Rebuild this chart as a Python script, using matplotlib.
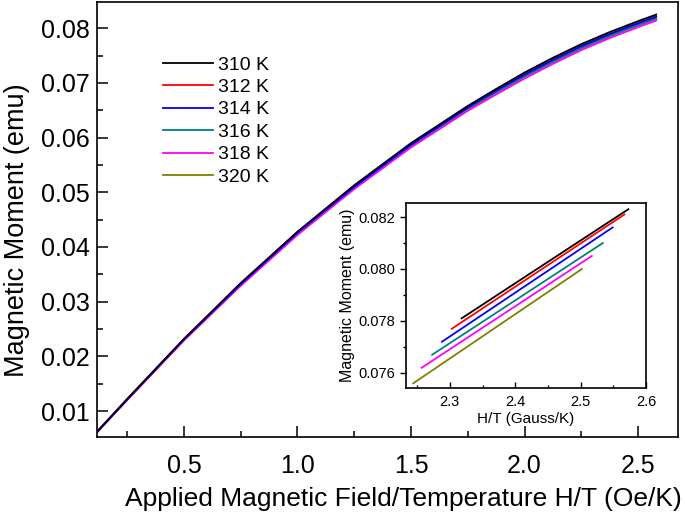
import numpy as np
import matplotlib
matplotlib.use("Agg")
import matplotlib.pyplot as plt
from matplotlib.ticker import MultipleLocator, FormatStrFormatter

plt.rcParams['font.family'] = ['Liberation Sans', 'DejaVu Sans']

# series labels and colours
temps = ['310 K', '312 K', '314 K', '316 K', '318 K', '320 K']
colors = ['#000000', '#ff0000', '#0000ff', '#008080', '#ff00ff', '#808000']

# main panel: H/T (Oe/K) vs moment (emu)
ht_main = [0.117, 0.25, 0.5, 0.75, 1.0, 1.25, 1.5, 1.75, 1.875, 2.0, 2.125, 2.25, 2.375, 2.5, 2.58]
m_main = {
    '310 K': [0.0062, 0.0122, 0.0232, 0.0334, 0.0428, 0.0513, 0.0590, 0.0658, 0.0689, 0.0719, 0.0746, 0.0771, 0.0793, 0.0813, 0.0825],
    '312 K': [0.0062, 0.0122, 0.0231, 0.0333, 0.0427, 0.0511, 0.0588, 0.0656, 0.0687, 0.0716, 0.0743, 0.0768, 0.0790, 0.0810, 0.0822],
    '314 K': [0.0062, 0.0121, 0.0231, 0.0332, 0.0426, 0.0510, 0.0587, 0.0655, 0.0686, 0.0715, 0.0742, 0.0767, 0.0789, 0.0809, 0.0821],
    '316 K': [0.0061, 0.0121, 0.0230, 0.0331, 0.0425, 0.0509, 0.0585, 0.0653, 0.0683, 0.0712, 0.0739, 0.0764, 0.0786, 0.0806, 0.0818],
    '318 K': [0.0061, 0.0120, 0.0229, 0.0329, 0.0422, 0.0506, 0.0582, 0.0649, 0.0679, 0.0708, 0.0735, 0.0760, 0.0782, 0.0802, 0.0814],
    '320 K': [0.0061, 0.0121, 0.0230, 0.0331, 0.0424, 0.0508, 0.0584, 0.0652, 0.0682, 0.0711, 0.0738, 0.0763, 0.0785, 0.0805, 0.0817],
}

# inset: high-field end of each curve (Gauss/K)
ht_inset = {
    '310 K': [2.318, 2.573],
    '312 K': [2.303, 2.567],
    '314 K': [2.288, 2.549],
    '316 K': [2.273, 2.534],
    '318 K': [2.257, 2.517],
    '320 K': [2.244, 2.502],
}
m_inset = {
    '310 K': [0.0781, 0.0823],
    '312 K': [0.0777, 0.0821],
    '314 K': [0.0772, 0.0816],
    '316 K': [0.0767, 0.0810],
    '318 K': [0.0762, 0.0805],
    '320 K': [0.0756, 0.0800],
}

fig = plt.figure(figsize=(6.85, 5.14), dpi=100)
ax = fig.add_axes([0.1416, 0.1498, 0.8482, 0.8463])

# hidden ones first, then the ones that show on top
draw_order = ['320 K', '316 K', '312 K', '318 K', '314 K', '310 K']
lines = {}
for t in draw_order:
    c = colors[temps.index(t)]
    lines[t], = ax.plot(ht_main, m_main[t], color=c, lw=1.3, label=t)

ax.set_xlim(0.117, 2.676)
ax.set_ylim(0.00525, 0.0848)
ax.xaxis.set_major_locator(MultipleLocator(0.5))
ax.xaxis.set_minor_locator(MultipleLocator(0.25))
ax.yaxis.set_major_locator(MultipleLocator(0.01))
ax.yaxis.set_minor_locator(MultipleLocator(0.005))
ax.xaxis.set_major_formatter(FormatStrFormatter('%.1f'))
ax.yaxis.set_major_formatter(FormatStrFormatter('%.2f'))
ax.tick_params(which='both', direction='in', top=False, right=False, labelsize=18)
ax.tick_params(axis='x', which='major', length=8, width=1.1, pad=12)
ax.tick_params(axis='y', which='major', length=8, width=1.1, pad=5)
ax.tick_params(which='minor', length=4, width=1.1)
for s in ax.spines.values():
    s.set_linewidth(1.2)
ax.set_xlabel('Applied Magnetic Field/Temperature H/T (Oe/K)', fontsize=19)
ax.xaxis.set_label_coords(0.527, -0.115)
ax.set_ylabel('Magnetic Moment (emu)', fontsize=19.5)
ax.yaxis.set_label_coords(-0.115, 0.476)

ax.legend([lines[t] for t in temps], temps, loc='upper left', bbox_to_anchor=(0.1136, 0.876),
          borderaxespad=0, borderpad=0, frameon=False, fontsize=14,
          handlelength=2.55, handletextpad=0.3, labelspacing=0.25)

# inset
axi = fig.add_axes([0.5927, 0.2451, 0.3504, 0.3600])
for t, c in zip(temps, colors):
    axi.plot(ht_inset[t], m_inset[t], color=c, lw=1.3)
axi.set_xlim(2.233, 2.6)
axi.set_ylim(0.07542, 0.08254)
axi.xaxis.set_major_locator(MultipleLocator(0.1))
axi.xaxis.set_minor_locator(MultipleLocator(0.05))
axi.yaxis.set_major_locator(MultipleLocator(0.002))
axi.yaxis.set_minor_locator(MultipleLocator(0.001))
axi.xaxis.set_major_formatter(FormatStrFormatter('%.1f'))
axi.yaxis.set_major_formatter(FormatStrFormatter('%.3f'))
axi.tick_params(axis='x', which='both', direction='in', labelsize=10.5, pad=5)
axi.tick_params(axis='y', which='both', direction='out', labelsize=10.5)
axi.tick_params(which='major', length=4, width=1.0)
axi.tick_params(which='minor', length=2.5, width=1.0)
for s in axi.spines.values():
    s.set_linewidth(1.2)
axi.set_xlabel('H/T (Gauss/K)', fontsize=11, labelpad=2)
axi.set_ylabel('Magnetic Moment (emu)', fontsize=11.5, labelpad=3)

fig.savefig('out.png', dpi=100)
